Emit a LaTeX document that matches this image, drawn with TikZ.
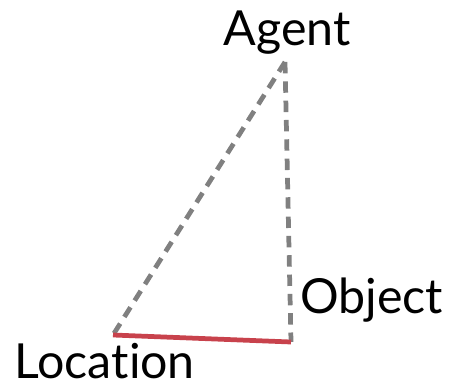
\documentclass[tikz,border=0pt]{standalone}
\usepackage{fontspec}
\setmainfont{Lato}[Ligatures=NoCommon]
\definecolor{linkgray}{RGB}{128,128,128}
\definecolor{linkred}{RGB}{200,66,76}
\tikzset{
  lbl/.style={font=\fontsize{27.5}{32}\selectfont, inner sep=0pt},
  weak/.style={linkgray, line width=2.7pt, dash pattern=on 6.5pt off 4.5pt},
  strong/.style={linkred, line width=2.7pt}
}
\begin{document}
\begin{tikzpicture}[x=0.02cm,y=-0.02cm]
\useasboundingbox (0,0) rectangle (452,388);
\coordinate (ag) at (285,62);
\coordinate (ob) at (291,342);
\coordinate (lo) at (113,335);
\node[lbl, anchor=base] (agent) at (287,46) {Agent};
\node[lbl, anchor=base west] (object) at (300,313) {Object};
\node[lbl, anchor=base west] (location) at (14,378) {Location};
\draw[weak] (ag) -- (lo);
\draw[weak] (ag) -- (ob);
\draw[strong] (lo) -- (ob);
\end{tikzpicture}
\end{document}
